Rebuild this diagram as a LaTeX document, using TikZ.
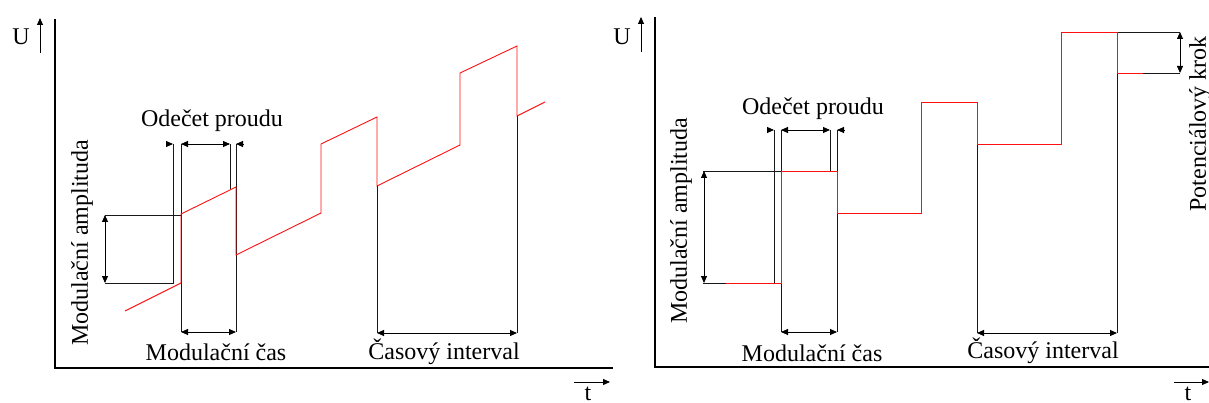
\documentclass[tikz,border=0pt]{standalone}
\usepackage{fontspec}
\setmainfont{Liberation Serif}
\usepackage{xcolor}
\usepackage{tikz}
\usetikzlibrary{arrows.meta,positioning,calc}
\definecolor{wavered}{HTML}{FF1010}

\begin{document}
\begin{tikzpicture}[
    x=1pt, y=-1pt,
    axis/.style={line width=1.3pt},
    guide/.style={line width=0.9pt, black!90},
    wave/.style={line width=0.9pt, wavered},
    dim/.style={{Triangle[length=7pt,width=6pt]}-{Triangle[length=7pt,width=6pt]}, line width=0.9pt},
    arr/.style={-{Triangle[length=7pt,width=6pt]}, line width=0.9pt},
    lbl/.style={font=\fontsize{24}{28}\selectfont, inner sep=0pt},
]
    \useasboundingbox (0,0) rectangle (1209,403);

    % ---------- left: ramp with pulses ----------
    \draw[axis] (55,19) -- (55,368) -- (613,368);
    \coordinate (uL1) at (40,53);  \coordinate (uL2) at (40,18);
    \coordinate (tL1) at (574,382); \coordinate (tL2) at (610,382);
    \draw[arr] (uL1) -- (uL2);
    \draw[arr] (tL1) -- (tL2);
    \node[lbl] (uL) at (21,37) {U};
    \node[lbl] (tL) at (588,394) {t};

    % guides
    \draw[guide] (173,144) -- (173,283) -- (105,283);
    \draw[guide] (105,215) -- (181,215);
    \draw[guide] (181,144) -- (181,332);
    \draw[guide] (230,144) -- (230,189);
    \draw[guide] (236,144) -- (236,332);
    \draw[guide] (377,186) -- (377,333);
    \draw[guide] (517,116) -- (517,333);

    % waveform
    \draw[wave] (125,311) -- (181,283) -- (181,214) -- (236,187) -- (236,255)
        -- (321,213) -- (321,144) -- (377,117) -- (377,186) -- (460,145)
        -- (460,73) -- (517,46) -- (517,116) -- (545,102);

    % dimensions
    \coordinate (ampL1) at (105,215); \coordinate (ampL2) at (105,283);
    \coordinate (odL1) at (181,144);  \coordinate (odL2) at (230,144);
    \coordinate (modL1) at (181,332); \coordinate (modL2) at (236,332);
    \coordinate (intL1) at (377,333); \coordinate (intL2) at (517,333);
    \draw[dim] (ampL1) -- (ampL2);
    \draw[dim] (odL1) -- (odL2);
    \draw[arr] (166,144) -- (173,144);
    \draw[arr] (243,144) -- (236,144);
    \draw[dim] (modL1) -- (modL2);
    \draw[dim] (intL1) -- (intL2);

    \node[lbl] (odLt) at (212,121) {Odečet proudu};
    \node[lbl, rotate=90] (ampLt) at (82,243) {Modulační amplituda};
    \node[lbl] (modLt) at (216,352) {Modulační čas};
    \node[lbl] (intLt) at (444,352) {Časový interval};

    % ---------- right: staircase with pulses ----------
    \draw[axis] (655,17) -- (655,367) -- (1209,367);
    \coordinate (uR1) at (641,52);  \coordinate (uR2) at (641,17);
    \coordinate (tR1) at (1174,382); \coordinate (tR2) at (1209,382);
    \draw[arr] (uR1) -- (uR2);
    \draw[arr] (tR1) -- (tR2);
    \node[lbl] (uR) at (622,37) {U};
    \node[lbl] (tR) at (1188,394) {t};

    % guides
    \draw[guide] (703,283) -- (774,283);
    \draw[guide] (703,171) -- (781,171);
    \draw[guide] (774,130) -- (774,283);
    \draw[guide] (781,130) -- (781,332);
    \draw[guide] (830,130) -- (830,171);
    \draw[guide] (837,130) -- (837,332);
    \draw[guide] (977,144) -- (977,333);
    \draw[guide] (1117,73) -- (1117,333);
    \draw[guide] (1117,32) -- (1180,32);
    \draw[guide] (1143,73) -- (1180,73);

    % waveform
    \draw[wave] (726,283) -- (781,283) -- (781,171) -- (837,171) -- (837,213)
        -- (921,213) -- (921,102) -- (977,102) -- (977,144) -- (1061,144)
        -- (1061,32) -- (1117,32) -- (1117,73) -- (1143,73);

    % dimensions
    \coordinate (ampR1) at (704,171); \coordinate (ampR2) at (704,283);
    \coordinate (odR1) at (781,130);  \coordinate (odR2) at (830,130);
    \coordinate (modR1) at (781,332); \coordinate (modR2) at (837,332);
    \coordinate (intR1) at (977,333); \coordinate (intR2) at (1117,333);
    \coordinate (krR1) at (1180,32);  \coordinate (krR2) at (1180,73);
    \draw[dim] (ampR1) -- (ampR2);
    \draw[dim] (odR1) -- (odR2);
    \draw[arr] (767,130) -- (774,130);
    \draw[arr] (844,130) -- (837,130);
    \draw[dim] (modR1) -- (modR2);
    \draw[dim] (intR1) -- (intR2);
    \draw[dim] (krR1) -- (krR2);

    \node[lbl] (odRt) at (813,109) {Odečet proudu};
    \node[lbl, rotate=90] (ampRt) at (681,221) {Modulační amplituda};
    \node[lbl] (modRt) at (812,353) {Modulační čas};
    \node[lbl] (intRt) at (1043,351) {Časový interval};
    \node[lbl, rotate=90] (krRt) at (1200,124) {Potenciálový krok};
\end{tikzpicture}
\end{document}
